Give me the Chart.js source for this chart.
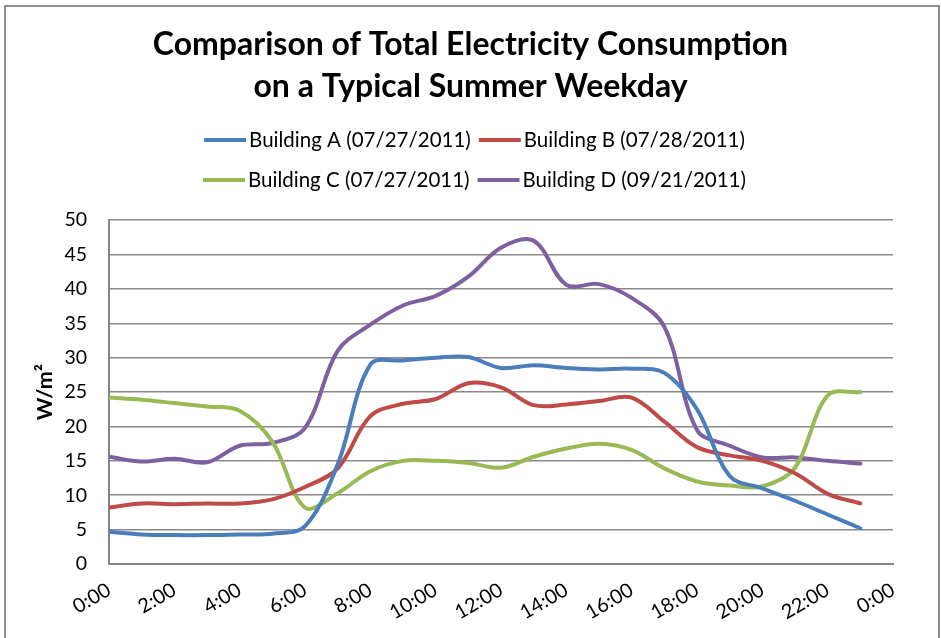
<!DOCTYPE html>
<html>
<head>
<meta charset="utf-8">
<script src="https://cdn.jsdelivr.net/npm/chart.js@4.4.0/dist/chart.umd.min.js"></script>
<style>
  body { margin: 0; background: #fff; }
  #box { position: absolute; left: 0; top: 0; width: 941px; height: 638px; }
</style>
</head>
<body>
<div id="box"><canvas id="grafico"></canvas></div>
<script>
// horas do dia (0:00 ... 23:00)
let horas = [0, 1, 2, 3, 4, 5, 6, 7, 8, 9, 10, 11, 12, 13, 14, 15, 16, 17, 18, 19, 20, 21, 22, 23];

let nomes = ["Building A (07/27/2011)", "Building B (07/28/2011)", "Building C (07/27/2011)", "Building D (09/21/2011)"];
let cores = ["#4A7EBB", "#BE4B48", "#98B954", "#7D60A0"];

let predioA = [4.7, 4.3, 4.2, 4.2, 4.3, 4.4, 5.5, 14.5, 29.0, 29.6, 30.0, 30.1, 28.5, 28.9, 28.5, 28.3, 28.4, 27.8, 22.5, 12.8, 11.0, 9.2, 7.2, 5.2];
let predioB = [8.2, 8.8, 8.7, 8.8, 8.8, 9.4, 11.2, 13.9, 21.5, 23.3, 24.0, 26.3, 25.7, 23.1, 23.2, 23.7, 24.2, 20.7, 17.0, 15.8, 15.0, 13.2, 10.2, 8.8];
let predioC = [24.2, 23.9, 23.4, 22.9, 22.3, 17.8, 8.2, 10.3, 13.5, 15.0, 15.0, 14.7, 14.0, 15.6, 16.8, 17.5, 16.6, 13.9, 12.0, 11.4, 11.3, 14.0, 24.5, 25.0];
let predioD = [15.6, 14.9, 15.3, 14.8, 17.2, 17.6, 19.8, 31.0, 34.8, 37.6, 39.0, 41.8, 46.0, 47.0, 40.6, 40.7, 38.7, 34.5, 19.5, 17.2, 15.5, 15.5, 15.0, 14.6];

let series = [predioA, predioB, predioC, predioD];

let titulo = ["Comparison of Total Electricity Consumption", "on a Typical Summer Weekday"];

const fonte = "Lato, 'Open Sans', sans-serif";

function pontos(valores) {
  return horas.map((h, i) => ({ x: h, y: valores[i] }));
}

// moldura cinza da área do gráfico
const moldura = {
  id: 'moldura',
  beforeDraw(chart) {
    const ctx = chart.ctx;
    ctx.save();
    ctx.strokeStyle = '#8e8e8e';
    ctx.lineWidth = 2;
    ctx.strokeRect(5, 6, 934, 700);
    ctx.restore();
  }
};

// legenda em duas linhas, desenhada à mão
const legenda = {
  id: 'legenda',
  afterDraw(chart) {
    const ctx = chart.ctx;
    ctx.save();
    ctx.font = "20.5px " + fonte;
    ctx.textBaseline = 'middle';
    ctx.fillStyle = '#000';
    const amostra = 42, gap = 3, entre = 8;
    const linhasY = [140, 180];
    for (let r = 0; r < 2; r++) {
      const a = r * 2, b = r * 2 + 1;
      const wa = ctx.measureText(nomes[a]).width;
      const wb = ctx.measureText(nomes[b]).width;
      const total = amostra + gap + wa + entre + amostra + gap + wb;
      let x = chart.width / 2 - total / 2 + 4;
      const y = linhasY[r];
      [a, b].forEach(i => {
        ctx.strokeStyle = cores[i];
        ctx.lineWidth = 4;
        ctx.beginPath();
        ctx.moveTo(x, y);
        ctx.lineTo(x + amostra, y);
        ctx.stroke();
        x += amostra + gap;
        ctx.fillText(nomes[i], x, y);
        x += ctx.measureText(nomes[i]).width + entre;
      });
    }
    ctx.restore();
  }
};

var ctx = document.getElementById('grafico').getContext('2d');
var chart = new Chart(ctx, {
  type: 'line',
  data: {
    datasets: series.map((s, i) => ({
      label: nomes[i],
      data: pontos(s),
      borderColor: cores[i],
      backgroundColor: cores[i],
      borderWidth: 4,
      pointRadius: 0,
      tension: 0.35,
      borderCapStyle: 'round',
      fill: false
    }))
  },
  options: {
    responsive: true,
    maintainAspectRatio: false,
    animation: false,
    layout: { padding: 0 },
    plugins: {
      legend: { display: false },
      tooltip: { enabled: false },
      title: {
        display: true,
        text: titulo,
        color: '#000',
        font: { family: fonte, size: 32, weight: 'bold', lineHeight: 1.3 },
        padding: { top: 24, bottom: 113 }
      }
    },
    scales: {
      x: {
        type: 'linear',
        min: 0,
        max: 24,
        afterFit(scale) { scale.height = 74; },
        grid: { display: false, drawTicks: false },
        border: { display: true, color: '#868686', width: 2 },
        ticks: {
          stepSize: 2,
          autoSkip: false,
          maxRotation: 30,
          minRotation: 30,
          padding: 14,
          color: '#000',
          font: { family: fonte, size: 20 },
          callback: v => (v % 24) + ':00'
        }
      },
      y: {
        min: 0,
        max: 50,
        afterFit(scale) { scale.width = 109; },
        grid: { color: '#8a8a8a', lineWidth: 1.5, drawTicks: false },
        border: { display: true, color: '#868686', width: 2 },
        ticks: {
          stepSize: 5,
          padding: 22,
          color: '#000',
          font: { family: fonte, size: 19.5 }
        },
        title: {
          display: true,
          text: 'W/m²',
          color: '#000',
          font: { family: fonte, size: 21.5, weight: 'bold' },
          padding: { top: 32 }
        }
      },
      // eixo vazio à direita, só para reservar a margem
      margem: {
        position: 'right',
        min: 0,
        max: 50,
        afterFit(scale) { scale.width = 48; },
        grid: { display: false, drawTicks: false },
        border: { display: false },
        ticks: { display: false }
      }
    }
  },
  plugins: [moldura, legenda]
});
</script>
</body>
</html>
